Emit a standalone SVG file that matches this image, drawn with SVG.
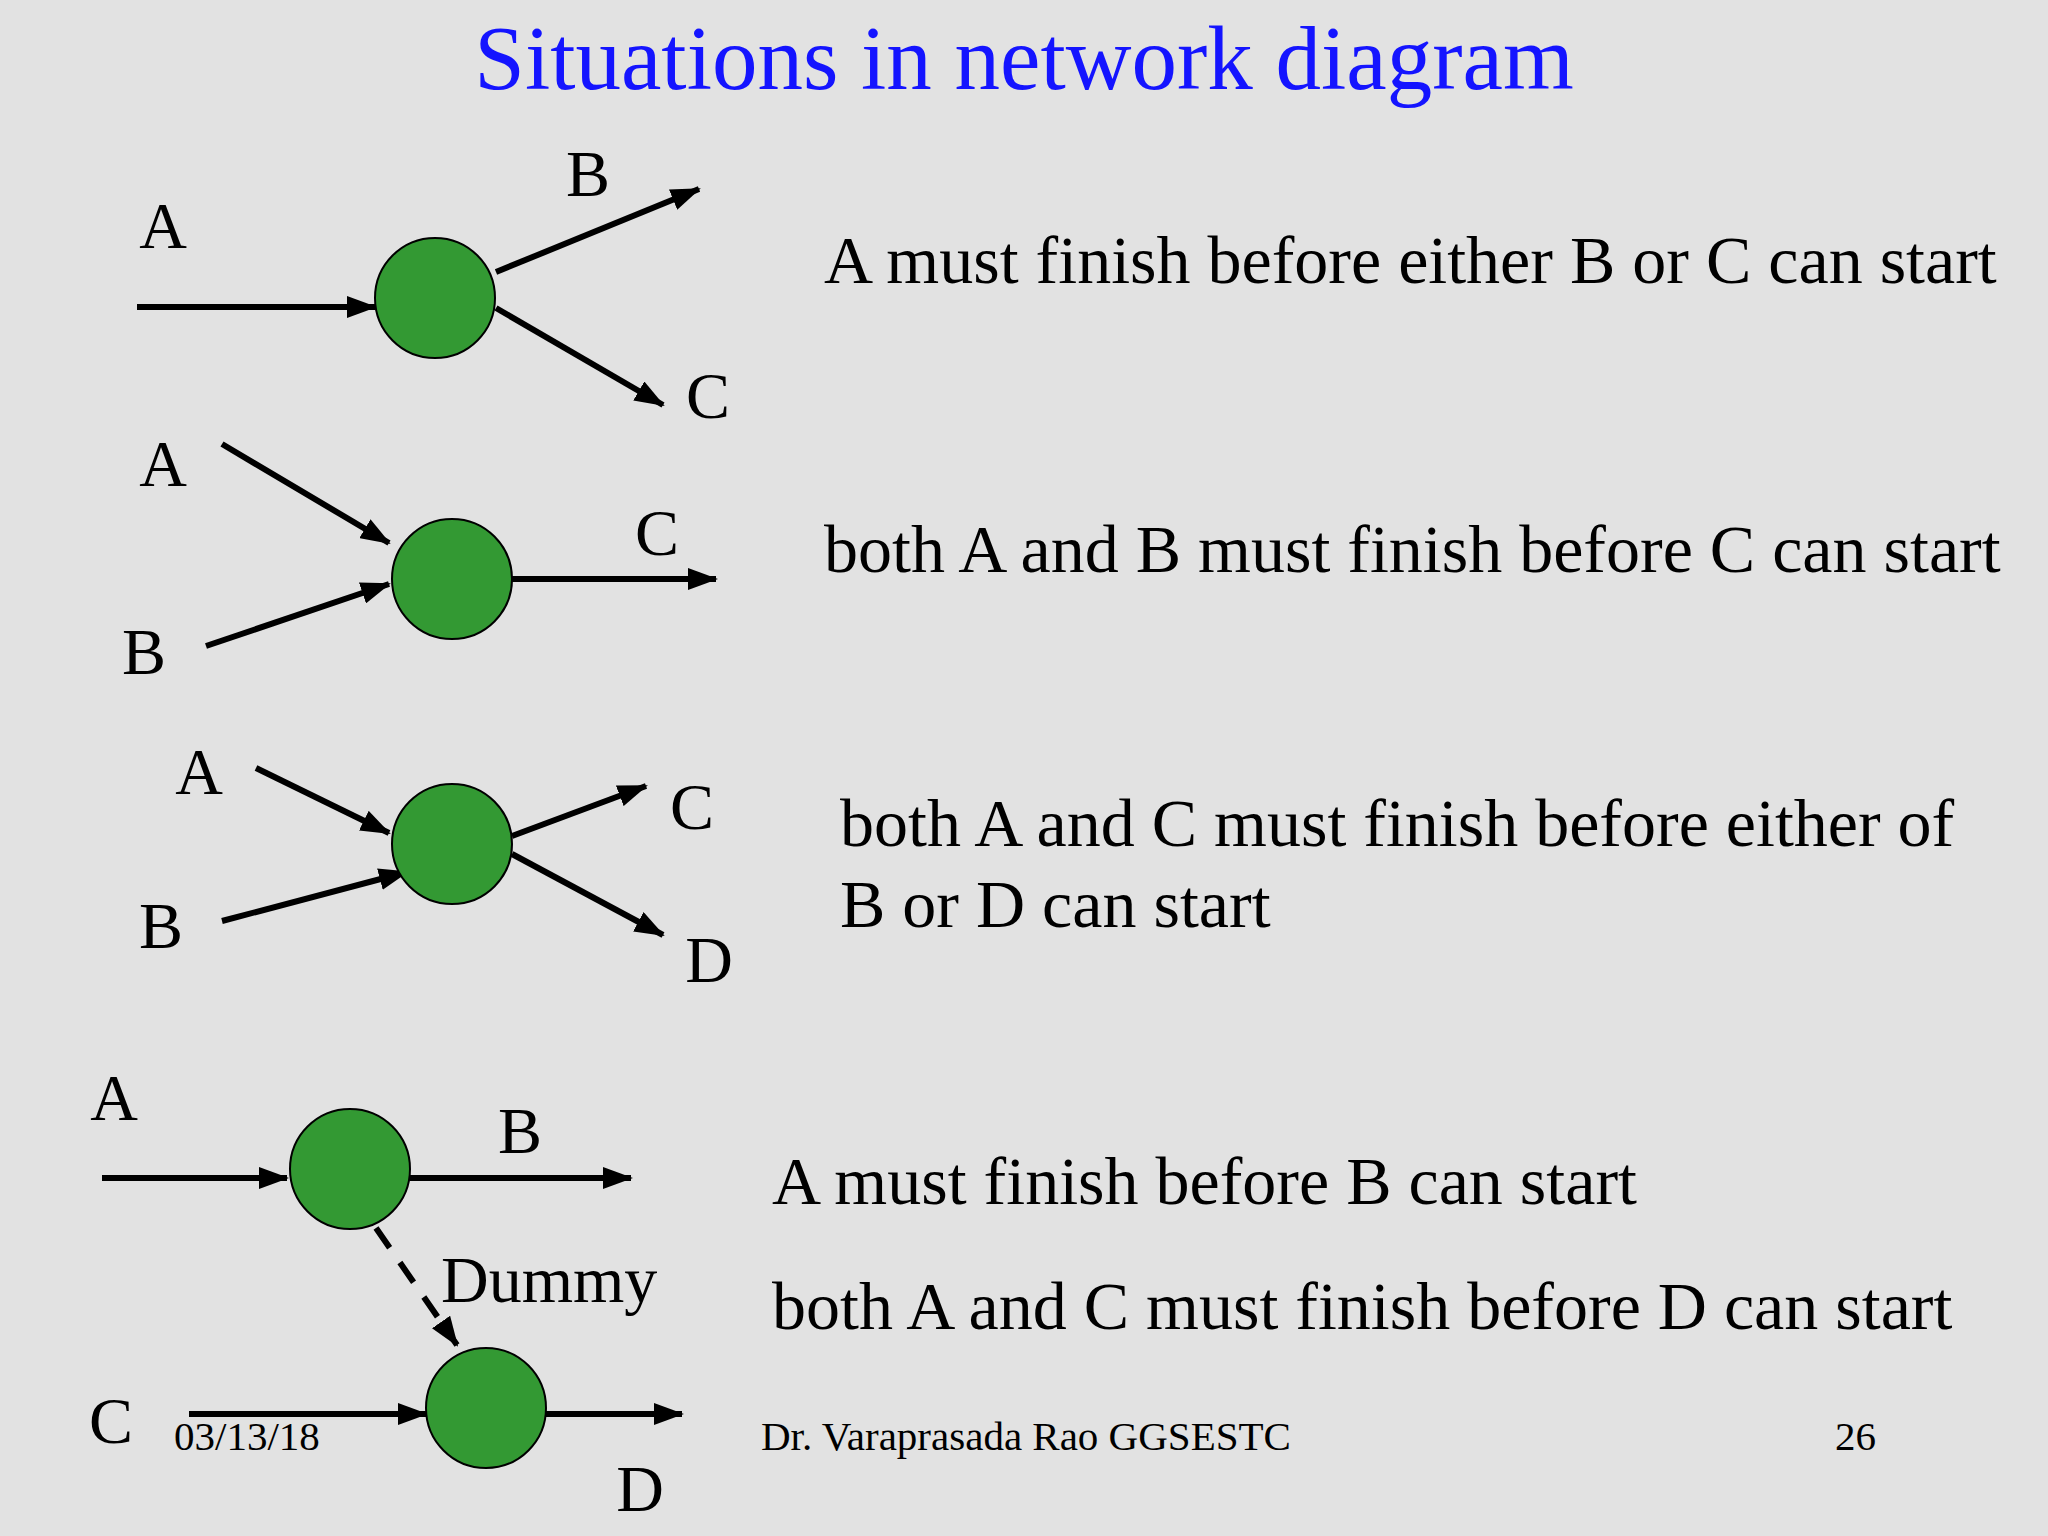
<svg xmlns="http://www.w3.org/2000/svg" width="2048" height="1536" viewBox="0 0 2048 1536">
<style>
.t{font-family:"Liberation Serif",serif;fill:#000}
.lb{font-size:66px}
.tx{font-size:68px}
.ft{font-size:41px}
.n{fill:#339933;stroke:#000;stroke-width:2}
.e{stroke:#000;stroke-width:6;fill:none;marker-end:url(#ah)}
.d{stroke-dasharray:24 18}
</style>
<defs>
<marker id="ah" markerUnits="userSpaceOnUse" markerWidth="30" markerHeight="22" refX="28" refY="11" orient="auto">
<path d="M0,0 L30,11 L0,22 Z" fill="#000"/>
</marker>
</defs>
<rect width="2048" height="1536" fill="#e2e2e2"/>
<text x="1024" y="89" text-anchor="middle" font-family="Liberation Serif,serif" font-size="91" fill="#1414ff">Situations in network diagram</text>
<g id="connectors">
<line class="e" x1="137" y1="307" x2="375" y2="307"/>
<line class="e" x1="496" y1="272" x2="699" y2="189"/>
<line class="e" x1="496" y1="308" x2="663" y2="405"/>
<line class="e" x1="222" y1="444" x2="389" y2="543"/>
<line class="e" x1="206" y1="646" x2="389" y2="584"/>
<line class="e" x1="512" y1="579" x2="716" y2="579"/>
<line class="e" x1="256" y1="768" x2="389" y2="833"/>
<line class="e" x1="222" y1="921" x2="407" y2="872"/>
<line class="e" x1="512" y1="836" x2="646" y2="786"/>
<line class="e" x1="512" y1="854" x2="663" y2="935"/>
<line class="e" x1="102" y1="1178" x2="287" y2="1178"/>
<line class="e" x1="410" y1="1178" x2="631" y2="1178"/>
<line class="e d" x1="376" y1="1228" x2="457" y2="1345"/>
<line class="e" x1="189" y1="1414" x2="426" y2="1414"/>
<line class="e" x1="546" y1="1414" x2="682" y2="1414"/>
</g>
<g id="n1"><circle class="n" cx="435" cy="298" r="60"/></g>
<g id="n2"><circle class="n" cx="452" cy="579" r="60"/></g>
<g id="n3"><circle class="n" cx="452" cy="844" r="60"/></g>
<g id="n4"><circle class="n" cx="350" cy="1169" r="60"/></g>
<g id="n5"><circle class="n" cx="486" cy="1408" r="60"/></g>
<g id="labels" class="t lb">
<text x="163" y="248" text-anchor="middle">A</text>
<text x="588" y="196" text-anchor="middle">B</text>
<text x="708" y="418" text-anchor="middle">C</text>
<text x="163" y="486" text-anchor="middle">A</text>
<text x="144" y="674" text-anchor="middle">B</text>
<text x="657" y="555" text-anchor="middle">C</text>
<text x="199" y="794" text-anchor="middle">A</text>
<text x="161" y="948" text-anchor="middle">B</text>
<text x="692" y="829" text-anchor="middle">C</text>
<text x="709" y="982" text-anchor="middle">D</text>
<text x="114" y="1120" text-anchor="middle">A</text>
<text x="520" y="1153" text-anchor="middle">B</text>
<text x="441" y="1302">Dummy</text>
<text x="111" y="1443" text-anchor="middle">C</text>
<text x="640" y="1511" text-anchor="middle">D</text>
</g>
<g id="texts" class="t tx">
<text x="824" y="283">A must finish before either B or C can start</text>
<text x="824" y="572">both A and B must finish before C can start</text>
<text x="840" y="846">both A and C must finish before either of</text>
<text x="840" y="927">B or D can start</text>
<text x="772" y="1204">A must finish before B can start</text>
<text x="772" y="1329">both A and C must finish before D can start</text>
</g>
<g id="footer" class="t ft">
<text x="174" y="1450">03/13/18</text>
<text x="761" y="1450">Dr. Varaprasada Rao GGSESTC</text>
<text x="1835" y="1450">26</text>
</g>
</svg>
